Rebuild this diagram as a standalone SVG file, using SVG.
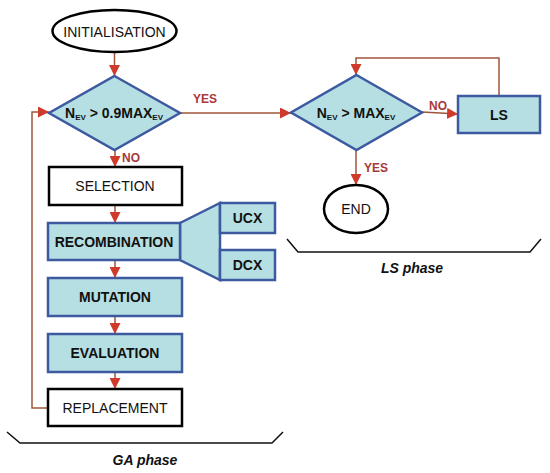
<svg xmlns="http://www.w3.org/2000/svg" width="550" height="473" viewBox="0 0 550 473">
<style>
text{font-family:"Liberation Sans",Arial,sans-serif;fill:#111;text-anchor:middle;dominant-baseline:central}
.b{font-weight:bold;font-size:14px}
.r{font-size:14px}
.blue{fill:#b5dfe3;stroke:#3d5aa0;stroke-width:2.5}
.wht{fill:#fff;stroke:#000;stroke-width:2.5}
.lbl{font-size:12px;font-weight:bold;fill:#a8383a}
.c{fill:none;stroke:#a0553a;stroke-width:1.5}
.br{fill:none;stroke:#111;stroke-width:1.5}
.ph{font-size:14px;font-weight:bold;font-style:italic}
.sub{font-size:8px}
</style>
<defs>
<marker id="ah" viewBox="0 0 10 10" refX="10" refY="5" markerWidth="11" markerHeight="11" markerUnits="userSpaceOnUse" orient="auto">
<path d="M0,0 L10,5 L0,10 z" fill="#d03a2a"/>
</marker>
</defs>
<g id="connectors">
<path class="c" d="M114.5,52 V76" marker-end="url(#ah)"/>
<path class="c" d="M115,150 V167" marker-end="url(#ah)"/>
<path class="c" d="M115,205 V223" marker-end="url(#ah)"/>
<path class="c" d="M115,260 V278" marker-end="url(#ah)"/>
<path class="c" d="M115,316 V334" marker-end="url(#ah)"/>
<path class="c" d="M115,372 V389" marker-end="url(#ah)"/>
<path class="c" d="M48,408 H32 V112 H49" marker-end="url(#ah)"/>
<path class="c" d="M180,113 H291" marker-end="url(#ah)"/>
<path class="c" d="M422,112 L458,114" marker-end="url(#ah)"/>
<path class="c" d="M499,96 V58 H356 V75" marker-end="url(#ah)"/>
<path class="c" d="M356,150 V185" marker-end="url(#ah)"/>
<text class="lbl" x="205" y="99">YES</text>
<text class="lbl" x="131" y="158">NO</text>
<text class="lbl" x="438" y="106">NO</text>
<text class="lbl" x="376" y="168">YES</text>
</g>
<g id="init">
<ellipse class="wht" cx="114.5" cy="31" rx="62" ry="21"/>
<text x="114.5" y="32" style="font-size:14px">INITIALISATION</text>
</g>
<g id="cond1">
<polygon class="blue" points="114.5,76 180,113 114.5,150 49,113"/>
<text class="b" x="114" y="113">N<tspan class="sub" dy="4">EV</tspan><tspan dy="-4"> &gt; 0.9MAX</tspan><tspan class="sub" dy="4">EV</tspan></text>
</g>
<g id="selection">
<rect class="wht" x="49" y="167" width="133" height="38"/>
<text class="r" x="115" y="186">SELECTION</text>
</g>
<g id="recombination">
<polygon class="blue" points="180,223 220,203 220,280 180,260"/>
<rect class="blue" x="48" y="223" width="132" height="37"/>
<text class="b" x="114" y="242">RECOMBINATION</text>
</g>
<g id="ucx">
<rect class="blue" x="220" y="203" width="55" height="30"/>
<text class="b" x="247.5" y="218">UCX</text>
</g>
<g id="dcx">
<rect class="blue" x="220" y="250" width="55" height="30"/>
<text class="b" x="247.5" y="265">DCX</text>
</g>
<g id="mutation">
<rect class="blue" x="48" y="278" width="134" height="38"/>
<text class="b" x="115" y="297">MUTATION</text>
</g>
<g id="evaluation">
<rect class="blue" x="48" y="334" width="134" height="38"/>
<text class="b" x="115" y="353">EVALUATION</text>
</g>
<g id="replacement">
<rect class="wht" x="48" y="389" width="134" height="37"/>
<text class="r" x="115" y="408">REPLACEMENT</text>
</g>
<g id="cond2">
<polygon class="blue" points="356.5,75 422,112.5 356.5,150 291,112.5"/>
<text class="b" x="356" y="113">N<tspan class="sub" dy="4">EV</tspan><tspan dy="-4"> &gt; MAX</tspan><tspan class="sub" dy="4">EV</tspan></text>
</g>
<g id="ls">
<rect class="blue" x="458" y="96" width="82" height="37"/>
<text class="b" x="499" y="115">LS</text>
</g>
<g id="end">
<ellipse class="wht" cx="356" cy="209" rx="32" ry="24"/>
<text class="r" x="356" y="209">END</text>
</g>
<g id="ga-phase">
<path class="br" d="M7,432 L20,443 H272 L283,432"/>
<text class="ph" x="145" y="460">GA phase</text>
</g>
<g id="ls-phase">
<path class="br" d="M287,239 L298,252 H530 L541,239"/>
<text class="ph" x="412" y="268">LS phase</text>
</g>
</svg>
